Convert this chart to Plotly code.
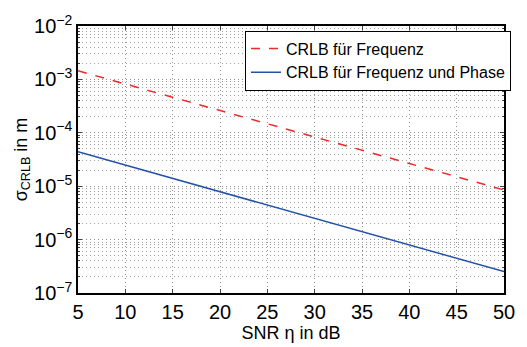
import plotly.graph_objects as go

snr_db = [5, 10, 15, 20, 25, 30, 35, 40, 45, 50]
crlb_freq = [1.45e-3, 8.2e-4, 4.6e-4, 2.6e-4, 1.48e-4, 8.3e-5, 4.7e-5, 2.66e-5, 1.5e-5, 8.5e-6]
crlb_freq_phase = [4.4e-5, 2.48e-5, 1.40e-5, 7.9e-6, 4.4e-6, 2.5e-6, 1.41e-6, 7.9e-7, 4.48e-7, 2.52e-7]
name_freq = "CRLB für Frequenz"
name_freq_phase = "CRLB für Frequenz und Phase"
x_ticks = [5, 10, 15, 20, 25, 30, 35, 40, 45, 50]
y_exponents = [-7, -6, -5, -4, -3, -2]
y_ticks = [10.0 ** e for e in y_exponents]
y_ticktext = ["10<sup>−%d</sup>" % (-e) for e in y_exponents]
minor_y = [m * 10.0 ** e for e in range(-7, -2) for m in range(2, 10)]

fig = go.Figure()
fig.add_trace(go.Scatter(x=snr_db, y=crlb_freq, mode="lines", name=name_freq,
                         line=dict(color="#f02828", width=1.5, dash="dash")))
fig.add_trace(go.Scatter(x=snr_db, y=crlb_freq_phase, mode="lines", name=name_freq_phase,
                         line=dict(color="#2352a8", width=1.5)))

font = "Liberation Sans, Arial, sans-serif"
grid_dash = "1px,3px"
fig.update_layout(
    width=527, height=347,
    margin=dict(l=78, r=15, t=18, b=49),
    paper_bgcolor="white", plot_bgcolor="white",
    font=dict(family=font, size=17, color="black"),
    showlegend=True,
    legend=dict(x=0.392, y=0.983, xanchor="left", yanchor="top",
                bordercolor="black", borderwidth=1, bgcolor="white",
                font=dict(size=16, family=font),
                tracegroupgap=0, itemwidth=30),
    xaxis=dict(range=[5, 50], tickvals=x_ticks, ticks="inside", ticklen=4,
               showline=True, linecolor="black", linewidth=1.5, mirror="ticks",
               showgrid=True, gridcolor="#909090", griddash=grid_dash, gridwidth=1,
               zeroline=False, tickfont=dict(size=20),
               title=dict(text="SNR η in dB", font=dict(size=18), standoff=0)),
    yaxis=dict(type="log", range=[-7, -2], tickmode="array", tickvals=y_ticks, ticktext=y_ticktext,
               ticks="inside", ticklen=4,
               showline=True, linecolor="black", linewidth=1.5, mirror="ticks",
               showgrid=True, gridcolor="#909090", griddash=grid_dash, gridwidth=1,
               zeroline=False, tickfont=dict(size=20),
               minor=dict(tickmode="array", tickvals=minor_y, ticks="inside", ticklen=2,
                          showgrid=True, gridcolor="#a0a0a0", griddash=grid_dash, gridwidth=1),
               title=dict(text="σ<sub>CRLB</sub> in m", font=dict(size=18), standoff=2)),
)

fig.write_html("out.html")
